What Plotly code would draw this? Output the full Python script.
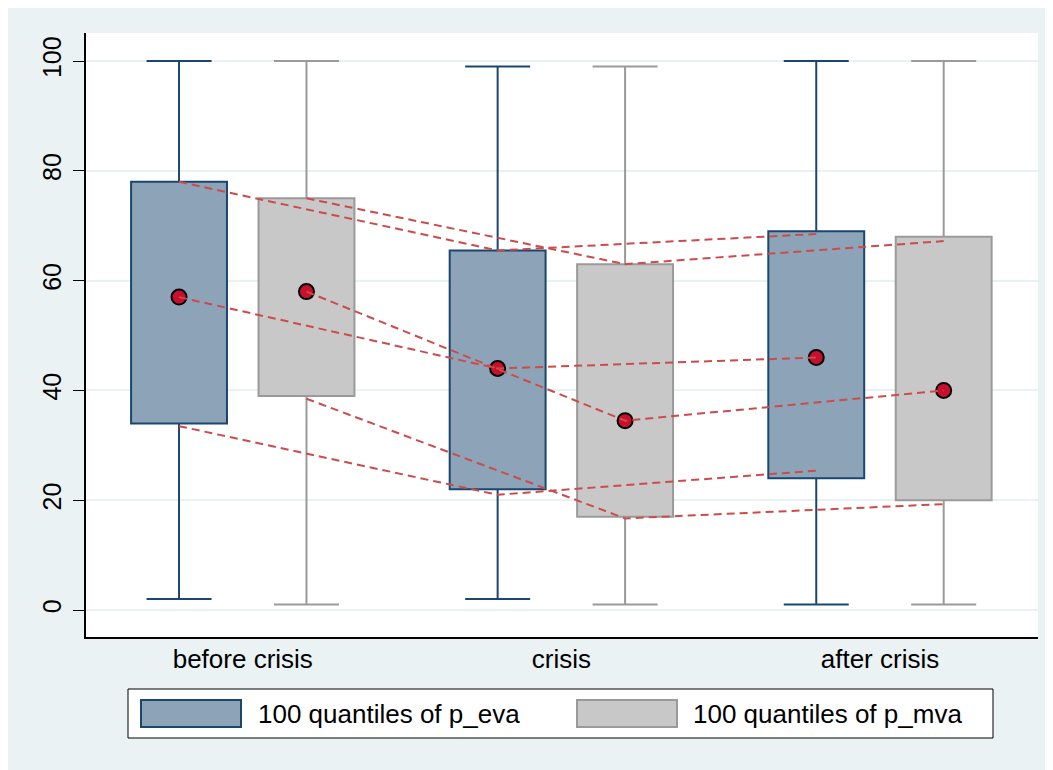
import plotly.graph_objects as go

# ---------------- data ----------------
periods = ["before crisis", "crisis", "after crisis"]
series_names = ["100 quantiles of p_eva", "100 quantiles of p_mva"]

eva_lower = [2, 2, 1]
eva_q1 = [34, 22, 24]
eva_q3 = [78, 65.5, 69]
eva_upper = [100, 99, 100]
eva_median = [57, 44, 46]

mva_lower = [1, 1, 1]
mva_q1 = [39, 17, 20]
mva_q3 = [75, 63, 68]
mva_upper = [100, 99, 100]
mva_median = [58, 34.5, 40]

# dashed trend lines linking periods
eva_q3_trend = [78, 65.5, 68.5]
mva_q3_trend = [75, 63, 67.2]
eva_q1_trend = [33.5, 21, 25.4]
mva_q1_trend = [38.5, 16.7, 19.3]

# ---------------- style ----------------
EVA_LINE = "#1A476F"
EVA_FILL = "#8CA3B8"
MVA_LINE = "#9A9A9A"
MVA_FILL = "#C8C8C8"
DOT = "#C8102E"
TREND = "#CC4B4B"
BG = "#EAF2F3"
FONT = "Liberation Sans"

W, H = 1053, 770
PAGE = 8  # page body margin offset in the screenshot
ML, MT = 86 - PAGE, 33 - PAGE
PW, PH = 952, 604
MR = W - ML - PW
MB = H - MT - PH

OFFSET = 0.2
BOXW = 0.301
CAP = 0.102

base_x = list(range(1, len(periods) + 1))

fig = go.Figure()

def add_series(xs, lower, q1, q3, upper, line_c, fill_c, name):
    fig.add_trace(go.Bar(
        x=xs, base=q1, y=[b - a for a, b in zip(q1, q3)], width=BOXW,
        marker=dict(color=fill_c, line=dict(color=line_c, width=2)),
        name=name, showlegend=False, hoverinfo="skip"))
    wx, wy, cx, cy = [], [], [], []
    for x, lo, a, b, hi in zip(xs, lower, q1, q3, upper):
        wx += [x, x, None, x, x, None]
        wy += [b, hi, None, a, lo, None]
        cx += [x - CAP, x + CAP, None, x - CAP, x + CAP, None]
        cy += [hi, hi, None, lo, lo, None]
    fig.add_trace(go.Scatter(x=wx, y=wy, mode="lines", line=dict(color=line_c, width=2),
                             showlegend=False, hoverinfo="skip"))
    fig.add_trace(go.Scatter(x=cx, y=cy, mode="lines", line=dict(color=line_c, width=2),
                             showlegend=False, hoverinfo="skip"))

eva_x = [b - OFFSET for b in base_x]
mva_x = [b + OFFSET for b in base_x]

add_series(eva_x, eva_lower, eva_q1, eva_q3, eva_upper, EVA_LINE, EVA_FILL, series_names[0])
add_series(mva_x, mva_lower, mva_q1, mva_q3, mva_upper, MVA_LINE, MVA_FILL, series_names[1])

# median dots
fig.add_trace(go.Scatter(x=eva_x + mva_x, y=eva_median + mva_median, mode="markers",
                         marker=dict(color=DOT, size=15, line=dict(color="black", width=2)),
                         showlegend=False, hoverinfo="skip"))

# dashed trend lines
for xs, ys in [(eva_x, eva_q3_trend), (mva_x, mva_q3_trend),
               (eva_x, eva_median), (mva_x, mva_median),
               (eva_x, eva_q1_trend), (mva_x, mva_q1_trend)]:
    fig.add_trace(go.Scatter(x=xs, y=ys, mode="lines",
                             line=dict(color=TREND, width=2, dash="8px,5px"),
                             showlegend=False, hoverinfo="skip"))

# ---------------- custom legend ----------------
def px2x(px):
    return (px - PAGE - ML) / PW

def px2y(py):
    return (MT + PH - (py - PAGE)) / PH

shapes = [
    dict(type="rect", xref="paper", yref="paper",
         x0=px2x(128), x1=px2x(993), y0=px2y(738), y1=px2y(689),
         fillcolor="white", line=dict(color="black", width=1)),
    dict(type="rect", xref="paper", yref="paper",
         x0=px2x(141), x1=px2x(241), y0=px2y(727), y1=px2y(700),
         fillcolor=EVA_FILL, line=dict(color=EVA_LINE, width=2)),
    dict(type="rect", xref="paper", yref="paper",
         x0=px2x(577), x1=px2x(677), y0=px2y(727), y1=px2y(700),
         fillcolor=MVA_FILL, line=dict(color=MVA_LINE, width=2)),
]

annotations = [
    dict(xref="paper", yref="paper", x=px2x(256), y=px2y(714), text=series_names[0],
         showarrow=False, xanchor="left", yanchor="middle",
         font=dict(family=FONT, size=26, color="black")),
    dict(xref="paper", yref="paper", x=px2x(691), y=px2y(714), text=series_names[1],
         showarrow=False, xanchor="left", yanchor="middle",
         font=dict(family=FONT, size=26, color="black")),
]

fig.update_layout(
    width=W, height=H,
    margin=dict(l=ML, r=MR, t=MT, b=MB, autoexpand=False),
    paper_bgcolor=BG, plot_bgcolor="white",
    barmode="overlay",
    showlegend=False,
    shapes=shapes,
    annotations=annotations,
    font=dict(family=FONT, size=26, color="black"),
    xaxis=dict(range=[0.508, 3.496], tickvals=base_x, ticktext=periods, ticks="",
               showline=True, linecolor="black", linewidth=1.5, showgrid=False,
               zeroline=False, tickfont=dict(size=26), ticklabelstandoff=-2),
    yaxis=dict(range=[-4.9, 105.1], tickvals=[0, 20, 40, 60, 80, 100], ticks="outside",
               ticklen=11, tickcolor="black", tickwidth=1, tickangle=-90,
               showline=True, linecolor="black", linewidth=1.5,
               showgrid=True, gridcolor="#E9F1F2", gridwidth=2, zeroline=False,
               tickfont=dict(size=25), ticklabelstandoff=2),
)

fig.write_html("out.html")
